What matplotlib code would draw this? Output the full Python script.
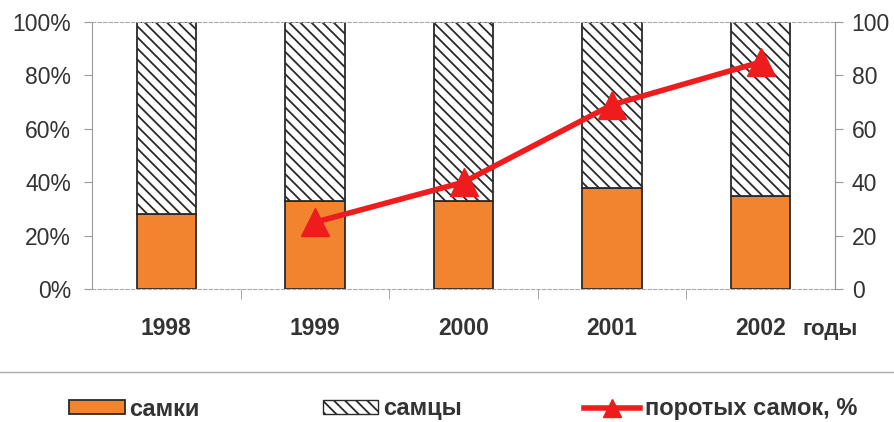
import numpy as np
import matplotlib.pyplot as plt
from matplotlib.patches import Patch
from matplotlib.lines import Line2D

plt.rcParams['font.family'] = ['Liberation Sans', 'DejaVu Sans']
plt.rcParams['hatch.linewidth'] = 1.3

# Данные
years = ['1998', '1999', '2000', '2001', '2002']
females = [28, 33, 33, 38, 35]          # доля самок, %
males = [100 - f for f in females]      # доля самцов, %
pregnant_years = [1, 2, 3, 4]           # индексы лет для линии
pregnant = [25, 40, 69, 85]             # поротых самок, %

text_color = '#333333'
orange = '#f2842f'
red = '#ee1c1c'

fig = plt.figure(figsize=(8.94, 4.22), dpi=100)
ax = fig.add_axes([92 / 894, 1 - 289 / 422, 743 / 894, 267 / 422])

x = np.arange(len(years))
width = 0.40
ax.bar(x, females, width, color=orange, edgecolor='#2a2a2a', linewidth=1.3)
ax.bar(x, males, width, bottom=females, color='white', edgecolor='#2a2a2a',
       hatch='\\\\\\', linewidth=1.3)

ax.set_xlim(-0.5, len(years) - 0.5)
ax.set_ylim(0, 100)
ax.set_yticks(np.arange(0, 101, 20))
ax.set_yticklabels([f'{v}%' for v in range(0, 101, 20)])
ax.set_xticks(x)
ax.set_xticklabels(years, fontweight='bold')
ax.set_xticks(np.arange(0.5, len(years) - 1, 1), minor=True)
ax.tick_params(axis='x', which='major', length=0, pad=20, labelsize=16.5,
               labelcolor=text_color)
ax.tick_params(axis='x', which='minor', length=7, direction='out',
               color='#999999')
ax.tick_params(axis='y', length=6, color='#999999', labelsize=16.5,
               labelcolor=text_color, pad=9)

for side in ['top', 'bottom']:
    ax.spines[side].set_linestyle((0, (3, 2)))
    ax.spines[side].set_color('#aaaaaa')
ax.spines['left'].set_color('#999999')
ax.spines['right'].set_color('#999999')

ax2 = ax.twinx()
ax2.plot(pregnant_years, pregnant, color=red, linewidth=4, marker='^',
         markersize=20, zorder=5)
ax2.set_ylim(0, 100)
ax2.set_yticks(np.arange(0, 101, 20))
ax2.tick_params(axis='y', length=6, color='#999999', labelsize=16.5,
                labelcolor=text_color, pad=6)
for side in ['top', 'bottom', 'left']:
    ax2.spines[side].set_visible(False)
ax2.spines['right'].set_color('#999999')

fig.text(803 / 894, 1 - 329 / 422, 'годы', fontsize=16, fontweight='bold',
         color=text_color, va='center')

# Разделительная линия над легендой
fig.add_artist(Line2D([0, 1], [1 - 372 / 422] * 2, color='#aaaaaa', linewidth=1))

handles = [
    Patch(facecolor=orange, edgecolor='#2a2a2a', linewidth=1.3, label='самки'),
    Patch(facecolor='white', edgecolor='#2a2a2a', linewidth=1.0,
          hatch='\\\\\\', label='самцы'),
    Line2D([0], [0], color=red, linewidth=4, marker='^', markersize=13,
           label='поротых самок, %'),
]
fig.legend(handles=handles, loc='center', bbox_to_anchor=(0.518, 1 - 409 / 422),
           ncol=3, frameon=False, handlelength=2.35, handleheight=0.55,
           handletextpad=0.2, columnspacing=5.2, labelcolor=text_color,
           prop={'size': 17, 'weight': 'bold'})

fig.savefig('out.png', dpi=100)
